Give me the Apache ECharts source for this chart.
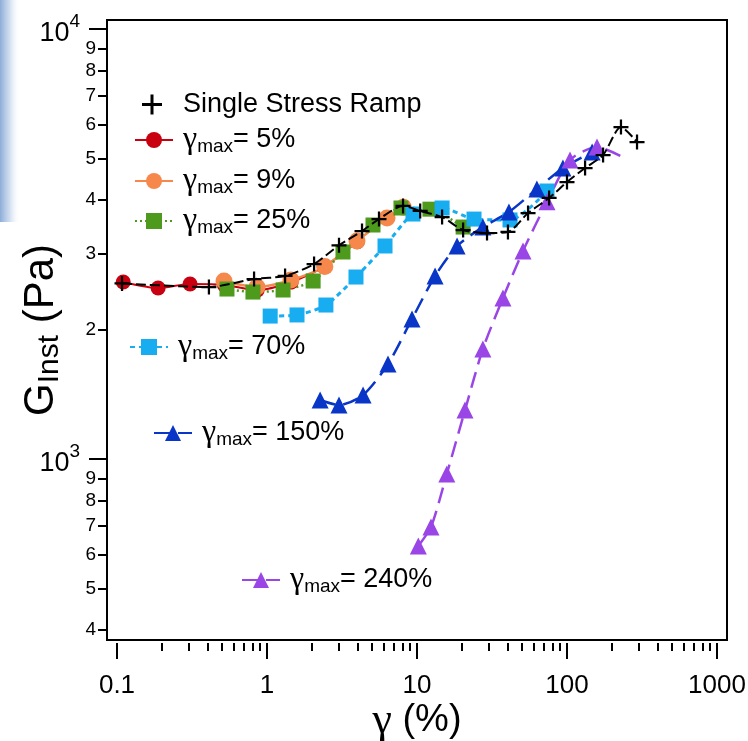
<!DOCTYPE html>
<html>
<head>
<meta charset="utf-8">
<script src="https://cdn.jsdelivr.net/npm/echarts@6/dist/echarts.min.js"></script>
<style>
html, body { margin: 0; padding: 0; background: #fff; }
#chart { width: 748px; height: 741px; }
</style>
</head>
<body>
<div id="chart"></div>
<script>
// Instantaneous modulus G_Inst (Pa) against strain γ (%)
const rampStrain = [0.108, 0.41, 0.82, 1.32, 2.06, 3.02, 4.3, 5.58, 8.07, 10.5, 14.7, 20.3, 29.3, 40.4, 55, 76, 100, 132, 174, 229, 293];
const rampG      = [2560, 2512, 2622, 2665, 2841, 3140, 3390, 3614, 3877, 3774, 3654, 3408, 3354, 3373, 3733, 4046, 4406, 4750, 5093, 5916, 5459];

const g5Strain = [0.11, 0.188, 0.307, 0.52, 0.86, 1.45, 2.4, 4.0];
const g5G      = [2580, 2498, 2552, 2540, 2470, 2580, 2800, 3200];

const g9Strain = [0.517, 0.858, 1.445, 2.43, 3.98, 6.31, 8.1];
const g9G      = [2594, 2512, 2608, 2804, 3213, 3635, 3850];

const g25Strain = [0.541, 0.806, 1.28, 2.03, 3.21, 5.09, 7.82, 12.2, 20.3];
const g25G      = [2485, 2445, 2472, 2594, 3030, 3501, 3835, 3811, 3463];

const g70Strain = [1.05, 1.585, 2.47, 3.92, 6.12, 9.4, 14.7, 24, 41.7, 73.6];
const g70G      = [2150, 2163, 2281, 2650, 3129, 3713, 3835, 3614, 3597, 4200];

const g150Strain = [2.26, 3.02, 4.37, 6.41, 9.26, 13.2, 18.5, 27.5, 41, 63, 94, 147];
const g150G      = [1372, 1335, 1409, 1663, 2116, 2665, 3129, 3463, 3753, 4244, 4750, 5175];

const g240Strain = [10.2, 12.4, 15.8, 20.9, 27.5, 37.4, 50.9, 73.6, 104.7, 158.5, 236];
const g240G      = [628, 695, 923, 1300, 1803, 2367, 3046, 3963, 4958, 5316, 5036];

// Series names and legend texts (rich-text markup for the subscript)
const seriesNames = ['Single Stress Ramp', 'γmax= 5%', 'γmax= 9%', 'γmax= 25%', 'γmax= 70%', 'γmax= 150%', 'γmax= 240%'];
const legendTexts = ['{r|Single Stress Ramp}', '{g|γ}{s|max}{t|= 5%}', '{g|γ}{s|max}{t|= 9%}', '{g|γ}{s|max}{t|= 25%}',
                     '{g|γ}{s|max}{t|= 70%}', '{g|γ}{s|max}{t|= 150%}', '{g|γ}{s|max}{t|= 240%}'];

// Axis ticks
const xMajorTicks = [0.1, 1, 10, 100, 1000];
const xMinorTicks = [0.2, 0.3, 0.4, 0.5, 0.6, 0.7, 0.8, 0.9,
                     2, 3, 4, 5, 6, 7, 8, 9,
                     20, 30, 40, 50, 60, 70, 80, 90,
                     200, 300, 400, 500, 600, 700, 800, 900];
const yMajorTicks = [1000, 10000];
const yMinorTicks = [400, 500, 600, 700, 800, 900, 2000, 3000, 4000, 5000, 6000, 7000, 8000, 9000];

const X_MIN = 0.08577, X_MAX = 1166;
const Y_MIN = 379.5, Y_MAX = 10493;

const SANS = 'Liberation Sans, Arial, sans-serif';
const SERIF = 'Liberation Serif, Times New Roman, serif';
const CROSS = 'path://M4.25,0h1.5v4.25h4.25v1.5h-4.25v4.25h-1.5v-4.25h-4.25v-1.5h4.25z';

function pairs(xs, ys) { return xs.map((x, i) => [x, ys[i]]); }

const chart = echarts.init(document.getElementById('chart'), null, { renderer: 'canvas' });

function lineSeries(name, xs, ys, color, symbol, size, lineType, width, extra) {
  return Object.assign({
    name: name,
    type: 'line',
    data: pairs(xs, ys),
    symbol: symbol,
    symbolSize: size,
    smooth: 0.25,
    showAllSymbol: true,
    itemStyle: { color: color },
    lineStyle: { color: color, width: width, type: lineType },
    emphasis: { disabled: true },
    animation: false
  }, extra || {});
}

const purpleData = pairs(g240Strain, g240G).map((p, i, arr) => i === arr.length - 1 ? { value: p, symbol: 'none' } : p);

const richLegend = {
  g: { fontFamily: SERIF, fontSize: 32, lineHeight: 32, padding: [0, 0, 0, 5], color: '#000' },
  s: { fontFamily: SANS, fontSize: 19, lineHeight: 19, padding: [13, 0, 0, 0], color: '#000' },
  t: { fontFamily: SANS, fontSize: 27, lineHeight: 32, color: '#000' },
  r: { fontFamily: SANS, fontSize: 27, lineHeight: 32, padding: [0, 0, 0, 7], color: '#000' }
};

function legendAt(idx, left, top, icon) {
  const item = icon ? { name: seriesNames[idx], icon: icon } : { name: seriesNames[idx] };
  return {
    data: [item],
    left: left,
    top: top,
    orient: 'vertical',
    padding: 0,
    itemWidth: 38,
    itemHeight: 20,
    itemGap: 0,
    selectedMode: false,
    formatter: () => legendTexts[idx],
    textStyle: { color: '#000', fontFamily: SANS, fontSize: 27, rich: richLegend }
  };
}

function minorLabel(v) {
  const p = Math.pow(10, Math.floor(Math.log10(v) + 1e-9));
  return String(Math.round(v / p));
}

const option = {
  backgroundColor: '#fff',
  animation: false,
  graphic: [{
    type: 'rect',
    left: 0, top: 0,
    shape: { width: 20, height: 222 },
    style: {
      fill: new echarts.graphic.LinearGradient(0, 0, 1, 0, [
        { offset: 0, color: 'rgba(140,172,216,1)' },
        { offset: 0.5, color: 'rgba(200,216,238,0.8)' },
        { offset: 1, color: 'rgba(255,255,255,0)' }
      ])
    },
    silent: true,
    z: 0
  }],
  grid: {
    left: 107, top: 20, width: 620, height: 620,
    containLabel: false, outerBoundsMode: 'none',
    show: true, borderColor: '#000', borderWidth: 2, backgroundColor: 'transparent'
  },
  xAxis: [{
    type: 'log', min: X_MIN, max: X_MAX, position: 'bottom', offset: 3,
    axisLine: { show: false },
    axisTick: { show: true, length: 16, lineStyle: { color: '#000', width: 2 }, customValues: xMajorTicks },
    axisLabel: {
      show: true, customValues: xMajorTicks, margin: 30, color: '#000', fontFamily: SANS, fontSize: 26,
      formatter: v => String(v)
    },
    splitLine: { show: false }, minorTick: { show: false },
    name: '{g|γ}{t| (%)}', nameLocation: 'middle', nameGap: 56, nameMoveOverlap: false,
    nameTextStyle: {
      rich: {
        g: { fontFamily: SERIF, fontSize: 44, color: '#000' },
        t: { fontFamily: SANS, fontSize: 38, color: '#000' }
      }
    }
  }, {
    type: 'log', min: X_MIN, max: X_MAX, position: 'bottom', offset: 3,
    axisLine: { show: false },
    axisTick: { show: true, length: 8, lineStyle: { color: '#000', width: 2 }, customValues: xMinorTicks },
    axisLabel: { show: false },
    splitLine: { show: false }
  }],
  yAxis: [{
    type: 'log', min: Y_MIN, max: Y_MAX, position: 'left', offset: 0,
    axisLine: { show: false },
    axisTick: { show: true, length: 18, lineStyle: { color: '#000', width: 2 }, customValues: yMajorTicks },
    axisLabel: {
      show: true, customValues: yMajorTicks, margin: 27, color: '#000',
      formatter: v => '{b|10}{p|' + Math.round(Math.log10(v)) + '}',
      rich: {
        b: { fontFamily: SANS, fontSize: 27, lineHeight: 27, padding: [10, 0, 0, 0], color: '#000' },
        p: { fontFamily: SANS, fontSize: 19, lineHeight: 19, padding: [0, 0, 14, 0], color: '#000' }
      }
    },
    splitLine: { show: false },
    name: '{g|G}{s|Inst}{t| (Pa)}', nameLocation: 'middle', nameRotate: 90, nameGap: 44, nameMoveOverlap: false,
    nameTextStyle: {
      rich: {
        g: { fontFamily: SANS, fontSize: 42, lineHeight: 44, color: '#000' },
        s: { fontFamily: SANS, fontSize: 30, lineHeight: 30, padding: [18, 0, 0, 0], color: '#000' },
        t: { fontFamily: SANS, fontSize: 42, lineHeight: 44, color: '#000' }
      }
    }
  }, {
    type: 'log', min: Y_MIN, max: Y_MAX, position: 'left', offset: 0,
    axisLine: { show: false },
    axisTick: { show: true, length: 9, lineStyle: { color: '#000', width: 2 }, customValues: yMinorTicks },
    axisLabel: {
      show: true, customValues: yMinorTicks, margin: 11, color: '#000',
      fontFamily: SANS, fontSize: 19, formatter: v => minorLabel(v)
    },
    splitLine: { show: false }
  }],
  legend: [
    legendAt(0, 142, 91, CROSS),
    legendAt(1, 134, 124),
    legendAt(2, 134, 165),
    legendAt(3, 134, 205),
    legendAt(4, 129, 331),
    legendAt(5, 153, 417),
    legendAt(6, 241, 564)
  ],
  series: [
    lineSeries(seriesNames[0], rampStrain, rampG, '#000000', CROSS, 15, [10, 4], 2, { z: 5 }),
    lineSeries(seriesNames[1], g5Strain, g5G, '#c8000f', 'circle', 15, 'solid', 2),
    lineSeries(seriesNames[2], g9Strain, g9G, '#f7884c', 'circle', 17, 'solid', 2.5),
    lineSeries(seriesNames[3], g25Strain, g25G, '#4e9a1c', 'rect', 15, [2, 3], 2.5),
    lineSeries(seriesNames[4], g70Strain, g70G, '#17adf0', 'rect', 15, [5, 4], 3),
    lineSeries(seriesNames[5], g150Strain, g150G, '#0a36c8', 'triangle', 17, [16, 8], 2.5),
    Object.assign(lineSeries(seriesNames[6], g240Strain, g240G, '#9a45e6', 'triangle', 17, [16, 8], 2.5), { data: purpleData })
  ]
};

chart.setOption(option);
</script>
</body>
</html>
